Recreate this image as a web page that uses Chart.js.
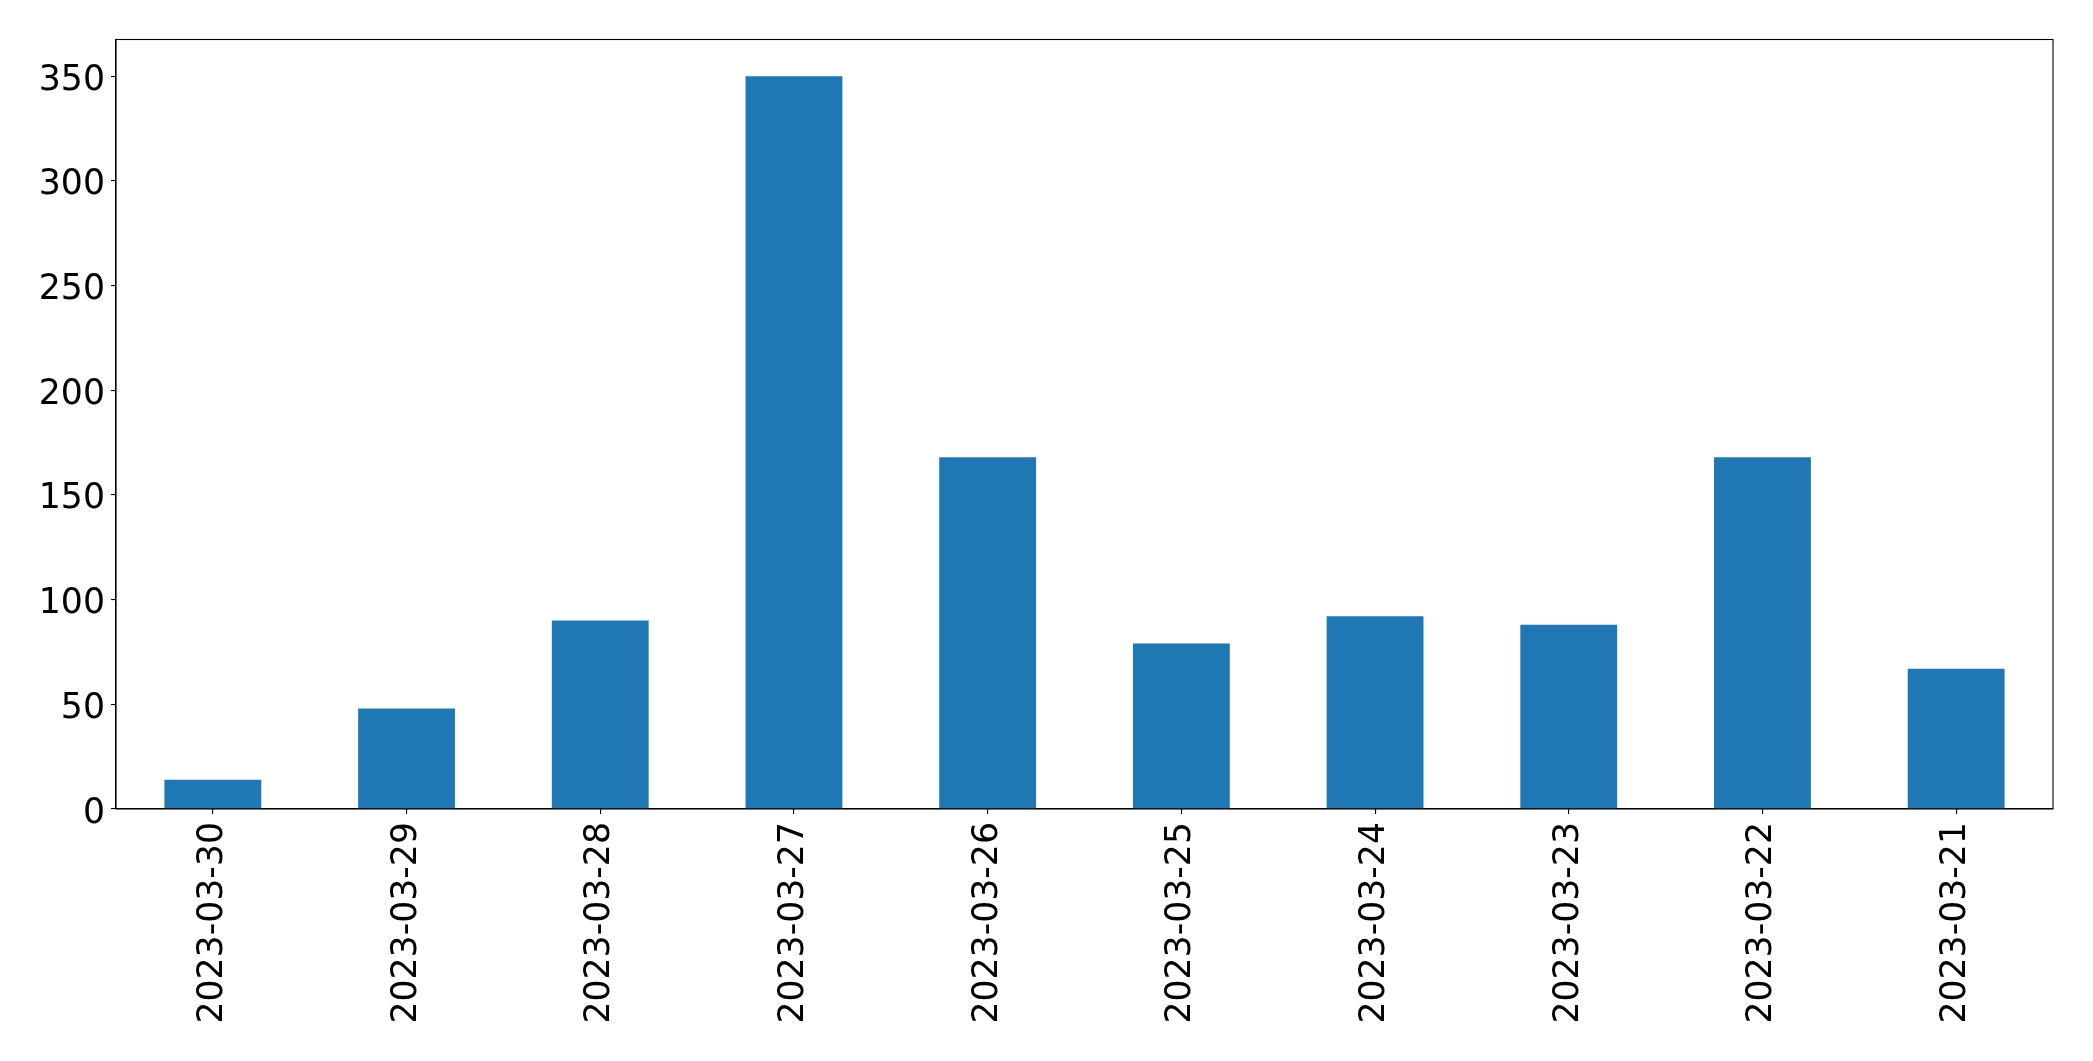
<!DOCTYPE html>
<html>
<head>
<meta charset="utf-8">
<script src="https://cdn.jsdelivr.net/npm/chart.js@4/dist/chart.umd.min.js"></script>
<style>
  html, body { margin: 0; padding: 0; background: #ffffff; }
  #wrap { width: 2093px; height: 1061px; position: relative; }
</style>
</head>
<body>
<div id="wrap"><canvas id="c" width="2093" height="1061"></canvas></div>
<script>
const categories = ["2023-03-30", "2023-03-29", "2023-03-28", "2023-03-27", "2023-03-26",
                    "2023-03-25", "2023-03-24", "2023-03-23", "2023-03-22", "2023-03-21"];
const values = [14, 48, 90, 350, 168, 79, 92, 88, 168, 67];
const yTicks = [0, 50, 100, 150, 200, 250, 300, 350];

const FONT = { family: "'DejaVu Sans', sans-serif", size: 34.7 };

const framePlugin = {
  id: 'frame',
  afterDraw(chart) {
    const a = chart.chartArea, ctx = chart.ctx;
    ctx.save();
    ctx.strokeStyle = '#000';
    ctx.lineWidth = 1.1;
    ctx.strokeRect(a.left, a.top, a.right - a.left, a.bottom - a.top);
    ctx.restore();
  }
};

new Chart(document.getElementById('c'), {
  type: 'bar',
  data: {
    labels: categories,
    datasets: [{
      data: values,
      backgroundColor: '#1f77b4',
      borderWidth: 0,
      barPercentage: 0.5,
      categoryPercentage: 1.0
    }]
  },
  options: {
    responsive: false,
    animation: false,
    devicePixelRatio: 1,
    layout: { padding: { left: 0, right: 40, top: 39.5, bottom: 0 } },
    plugins: { legend: { display: false }, tooltip: { enabled: false } },
    scales: {
      x: {
        offset: true,
        grid: { display: true, offset: false, drawOnChartArea: false, drawTicks: true, tickLength: 5, color: '#000', lineWidth: 1.1 },
        border: { display: true, color: '#000', width: 1.1 },
        ticks: { color: '#000', font: FONT, maxRotation: 90, minRotation: 90, padding: 8, autoSkip: false },
        afterFit(scale) { scale.height = 252; }
      },
      y: {
        min: 0,
        max: 367.5,
        afterBuildTicks(scale) { scale.ticks = yTicks.map(v => ({ value: v })); },
        grid: { display: true, drawOnChartArea: false, drawTicks: true, tickLength: 5, color: '#000', lineWidth: 1.1 },
        border: { display: true, color: '#000', width: 1.1 },
        ticks: {
          color: '#000',
          font: { family: FONT.family, size: FONT.size, lineHeight: 0.26 },
          padding: 6,
          callback: (v) => ['', String(v)]
        },
        afterFit(scale) { scale.width = 116; }
      }
    }
  },
  plugins: [framePlugin]
});
</script>
</body>
</html>
